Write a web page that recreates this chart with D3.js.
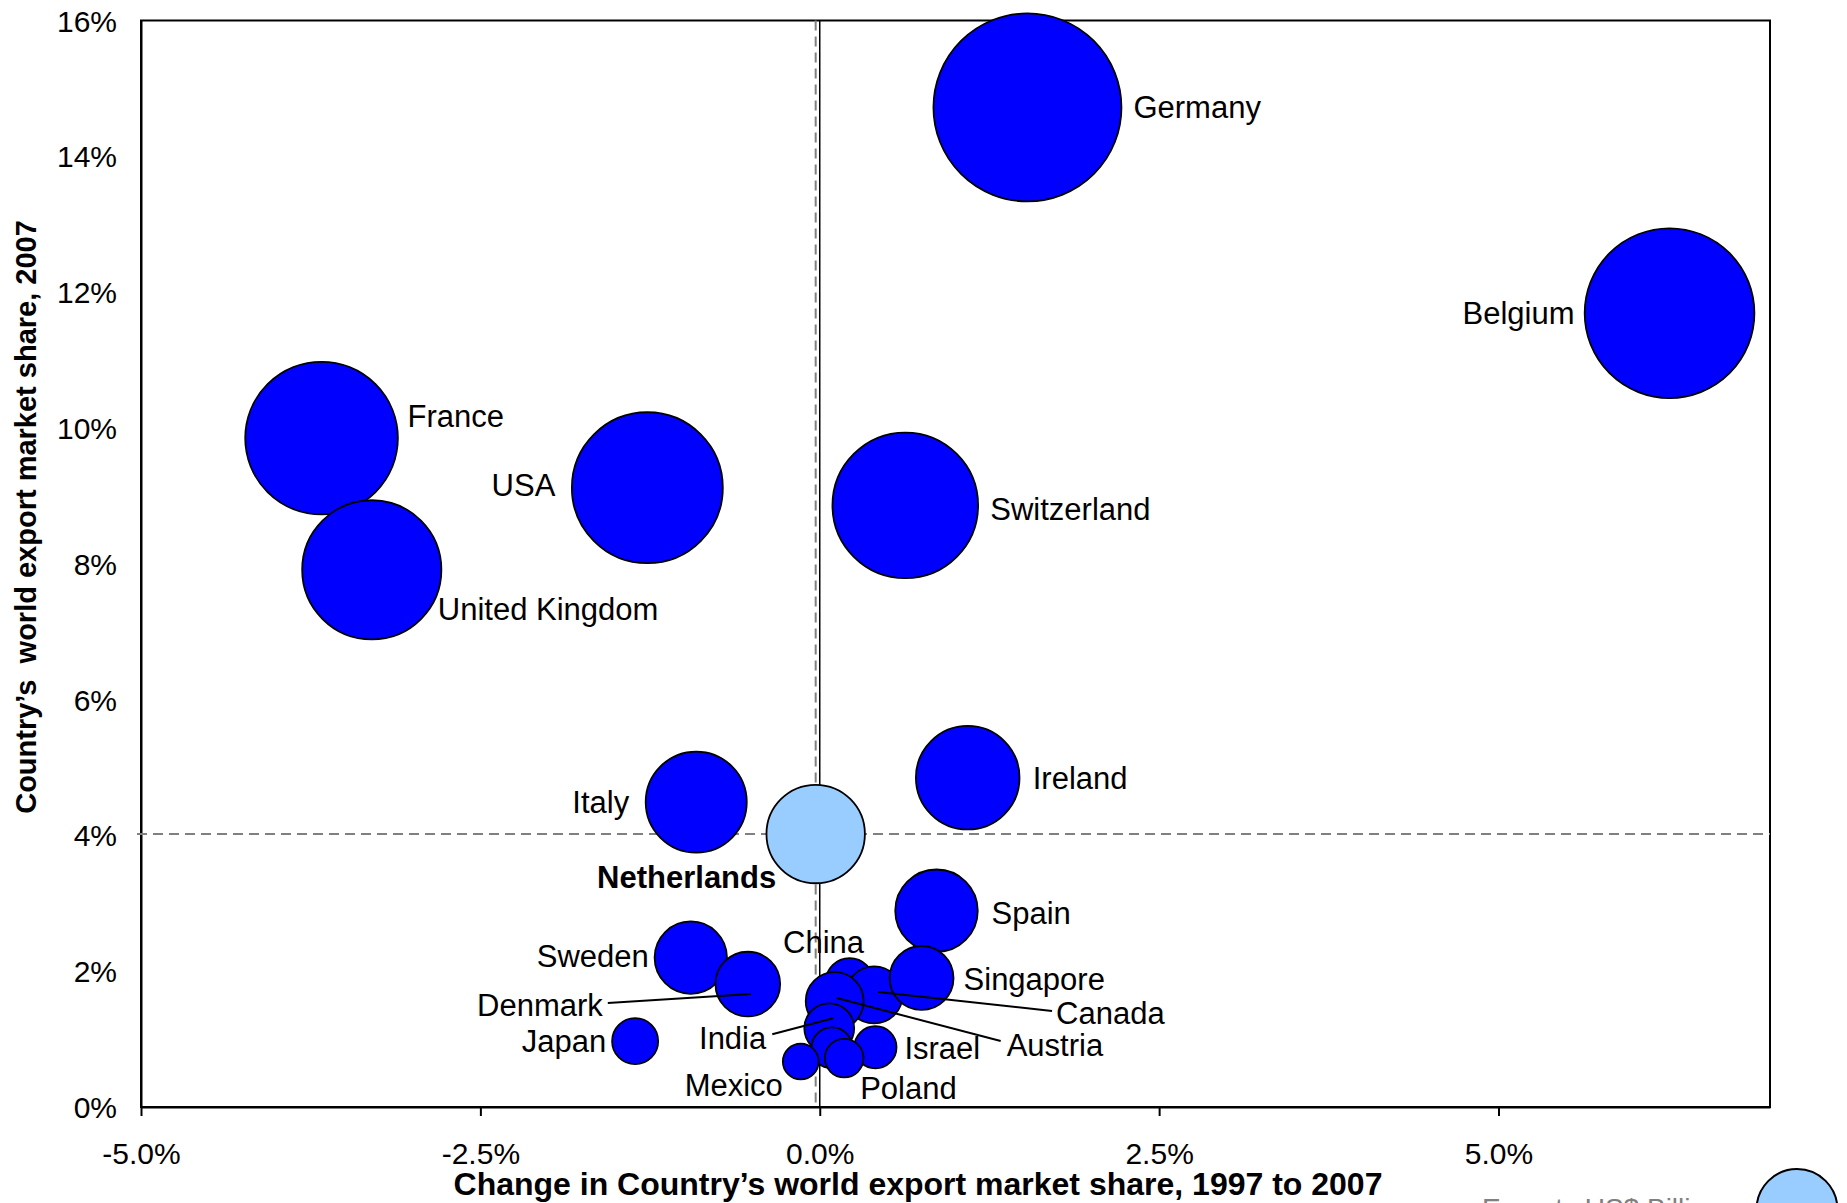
<!DOCTYPE html>
<html>
<head>
<meta charset="utf-8">
<script src="https://cdn.jsdelivr.net/npm/d3@7"></script>
<style>
  html, body { margin: 0; padding: 0; background: #fff; overflow: hidden; }
  svg { display: block; font-family: "Liberation Sans", Arial, sans-serif; }
</style>
</head>
<body>
<svg id="chart" width="1847" height="1203"></svg>
<script>
// Countries, in drawing order (later bubbles sit on top)
const countries = ["Germany", "Belgium", "France", "USA", "United Kingdom", "Switzerland",
  "Ireland", "Italy", "Netherlands", "Spain", "Sweden", "Denmark", "Japan", "China",
  "Canada", "Austria", "Singapore", "India", "", "Israel", "Poland", "Mexico"];
// Change in world export market share 1997-2007 (percentage points)
const shareChange = [1.53, 6.26, -3.67, -1.27, -3.30, 0.63,
  1.09, -0.91, -0.03, 0.86, -0.95, -0.53, -1.36, 0.22,
  0.40, 0.11, 0.75, 0.07, 0.09, 0.41, 0.18, -0.14];
// World export market share in 2007 (%)
const share2007 = [14.72, 11.69, 9.85, 9.12, 7.91, 8.86,
  4.85, 4.49, 4.02, 2.89, 2.20, 1.81, 0.97, 1.84,
  1.65, 1.56, 1.90, 1.16, 0.87, 0.88, 0.72, 0.67];
// Exports, US$ billion (bubble area)
const exportsBn = [135, 110, 89, 87, 74, 81,
  41, 39, 37, 26, 20, 16, 8.1, 8.8,
  12.4, 12.8, 15.6, 9.5, 6.4, 6.8, 5.7, 4.9];
const highlight = "Netherlands";
const xTicks = [-5, -2.5, 0, 2.5, 5];
const yTicks = [0, 2, 4, 6, 8, 10, 12, 14, 16];
const legendValue = 25;

// Label placement around each bubble (offsets in px from the bubble centre)
const labelLayout = {
  "Germany":        { dx: 106, dy: 0, anchor: "start" },
  "Belgium":        { dx: -95, dy: 0, anchor: "end" },
  "France":         { dx: 86, dy: -22, anchor: "start" },
  "USA":            { dx: -92, dy: -3, anchor: "end" },
  "United Kingdom": { dx: 66, dy: 39, anchor: "start" },
  "Switzerland":    { dx: 85, dy: 4, anchor: "start" },
  "Ireland":        { dx: 65, dy: 0, anchor: "start" },
  "Italy":          { dx: -67, dy: 0, anchor: "end" },
  "Netherlands":    { dx: -129, dy: 43, anchor: "middle", bold: true },
  "Spain":          { dx: 55, dy: 2, anchor: "start" },
  "Sweden":         { dx: -42, dy: -1, anchor: "end" },
  "Denmark":        { dx: -145, dy: 21, anchor: "end", line: [3, 10, -140, 19] },
  "Japan":          { dx: -29, dy: 0, anchor: "end" },
  "China":          { dx: -26, dy: -40, anchor: "middle" },
  "Canada":         { dx: 182, dy: 18, anchor: "start", line: [4, -3, 178, 16] },
  "Austria":        { dx: 172, dy: 44, anchor: "start", line: [2, -3, 166, 40] },
  "Singapore":      { dx: 42, dy: 1, anchor: "start" },
  "India":          { dx: -63, dy: 10, anchor: "end", line: [4, -10, -57, 6] },
  "Israel":         { dx: 29, dy: 1, anchor: "start" },
  "Poland":         { dx: 16, dy: 30, anchor: "start" },
  "Mexico":         { dx: -67, dy: 24, anchor: "middle" }
};

const data = countries.map((c, i) => ({
  name: c, dx: shareChange[i], share: share2007[i], value: exportsBn[i]
}));

const svg = d3.select("#chart");
const plotLeft = 141, plotRight = 1770, plotTop = 20.5, plotBottom = 1107;

const x = d3.scaleLinear().domain([-5, 7]).range([plotLeft, plotRight]);
const y = d3.scaleLinear().domain([0, 16]).range([plotBottom, plotTop]);
const r = d3.scaleSqrt().domain([0, 135]).range([0, 94]);

svg.append("rect").attr("width", 1847).attr("height", 1203).attr("fill", "#fff");

// Plot frame
svg.append("rect")
  .attr("x", plotLeft).attr("y", plotTop)
  .attr("width", plotRight - plotLeft).attr("height", plotBottom - plotTop)
  .attr("fill", "none").attr("stroke", "#000").attr("stroke-width", 2);

// X axis ticks and labels
const xAxis = svg.append("g")
  .attr("transform", `translate(0,${plotBottom})`)
  .call(d3.axisBottom(x).tickValues(xTicks)
    .tickFormat(d => d.toFixed(1) + "%").tickSizeInner(9).tickSizeOuter(0));
xAxis.select(".domain").attr("stroke", "#000").attr("stroke-width", 2);
xAxis.selectAll(".tick line").attr("stroke", "#000").attr("stroke-width", 2);
xAxis.selectAll(".tick text")
  .attr("y", 46).attr("dy", "0.35em")
  .attr("font-size", 30).attr("fill", "#000")
  .attr("font-family", "Liberation Sans, Arial, sans-serif");

// Y axis labels
const yAxis = svg.append("g")
  .attr("transform", `translate(${plotLeft},0)`)
  .call(d3.axisLeft(y).tickValues(yTicks)
    .tickFormat(d => d + "%").tickSize(0).tickPadding(24));
yAxis.select(".domain").attr("stroke", "#000").attr("stroke-width", 2);
yAxis.selectAll(".tick text")
  .attr("dy", "0.35em")
  .attr("font-size", 30).attr("fill", "#000")
  .attr("font-family", "Liberation Sans, Arial, sans-serif");

// Reference lines: zero change, and dashed cross-hairs through the highlighted country
const ref = data.find(d => d.name === highlight);
svg.append("line")
  .attr("x1", x(0)).attr("x2", x(0)).attr("y1", plotTop).attr("y2", plotBottom)
  .attr("stroke", "#000").attr("stroke-width", 1.5);
svg.append("line")
  .attr("x1", x(ref.dx)).attr("x2", x(ref.dx)).attr("y1", plotTop).attr("y2", plotBottom)
  .attr("stroke", "#808080").attr("stroke-width", 2).attr("stroke-dasharray", "10,6");
svg.append("line")
  .attr("x1", plotLeft - 4).attr("x2", plotRight).attr("y1", y(ref.share)).attr("y2", y(ref.share))
  .attr("stroke", "#808080").attr("stroke-width", 2).attr("stroke-dasharray", "10,6");

// Bubbles
svg.append("g").selectAll("circle").data(data).join("circle")
  .attr("cx", d => x(d.dx))
  .attr("cy", d => y(d.share))
  .attr("r", d => r(d.value))
  .attr("fill", d => d.name === highlight ? "#99CCFF" : "#0000FF")
  .attr("stroke", "#000").attr("stroke-width", 1.8);

// Leader lines from crowded bubbles to their labels
const leaders = data.filter(d => labelLayout[d.name] && labelLayout[d.name].line);
svg.append("g").selectAll("line").data(leaders).join("line")
  .attr("x1", d => x(d.dx) + labelLayout[d.name].line[0])
  .attr("y1", d => y(d.share) + labelLayout[d.name].line[1])
  .attr("x2", d => x(d.dx) + labelLayout[d.name].line[2])
  .attr("y2", d => y(d.share) + labelLayout[d.name].line[3])
  .attr("stroke", "#000").attr("stroke-width", 2);

// Country labels
svg.append("g").selectAll("text")
  .data(data.filter(d => d.name && labelLayout[d.name])).join("text")
  .attr("x", d => x(d.dx) + labelLayout[d.name].dx)
  .attr("y", d => y(d.share) + labelLayout[d.name].dy)
  .attr("dy", "0.35em")
  .attr("text-anchor", d => labelLayout[d.name].anchor)
  .attr("font-size", 31)
  .attr("font-weight", d => labelLayout[d.name].bold ? "bold" : "normal")
  .attr("fill", "#000")
  .text(d => d.name);

// Axis titles
svg.append("text")
  .attr("x", 918).attr("y", 1184).attr("dy", "0.35em")
  .attr("text-anchor", "middle").attr("font-size", 32).attr("font-weight", "bold")
  .text("Change in Country\u2019s world export market share, 1997 to 2007");
svg.append("text")
  .attr("transform", "translate(26,517) rotate(-90)")
  .attr("dy", "0.35em")
  .attr("text-anchor", "middle").attr("font-size", 29).attr("font-weight", "bold")
  .style("white-space", "pre")
  .text("Country\u2019s  world export market share, 2007");

// Bubble-size legend (runs off the bottom edge of the page)
svg.append("circle")
  .attr("cx", 1797).attr("cy", 1169 + r(legendValue)).attr("r", r(legendValue))
  .attr("fill", "#99CCFF").attr("stroke", "#000").attr("stroke-width", 2);
svg.append("text")
  .attr("x", 1482).attr("y", 1218)
  .attr("font-size", 28).attr("fill", "#808080")
  .text("Exports US$ Billion");
</script>
</body>
</html>
